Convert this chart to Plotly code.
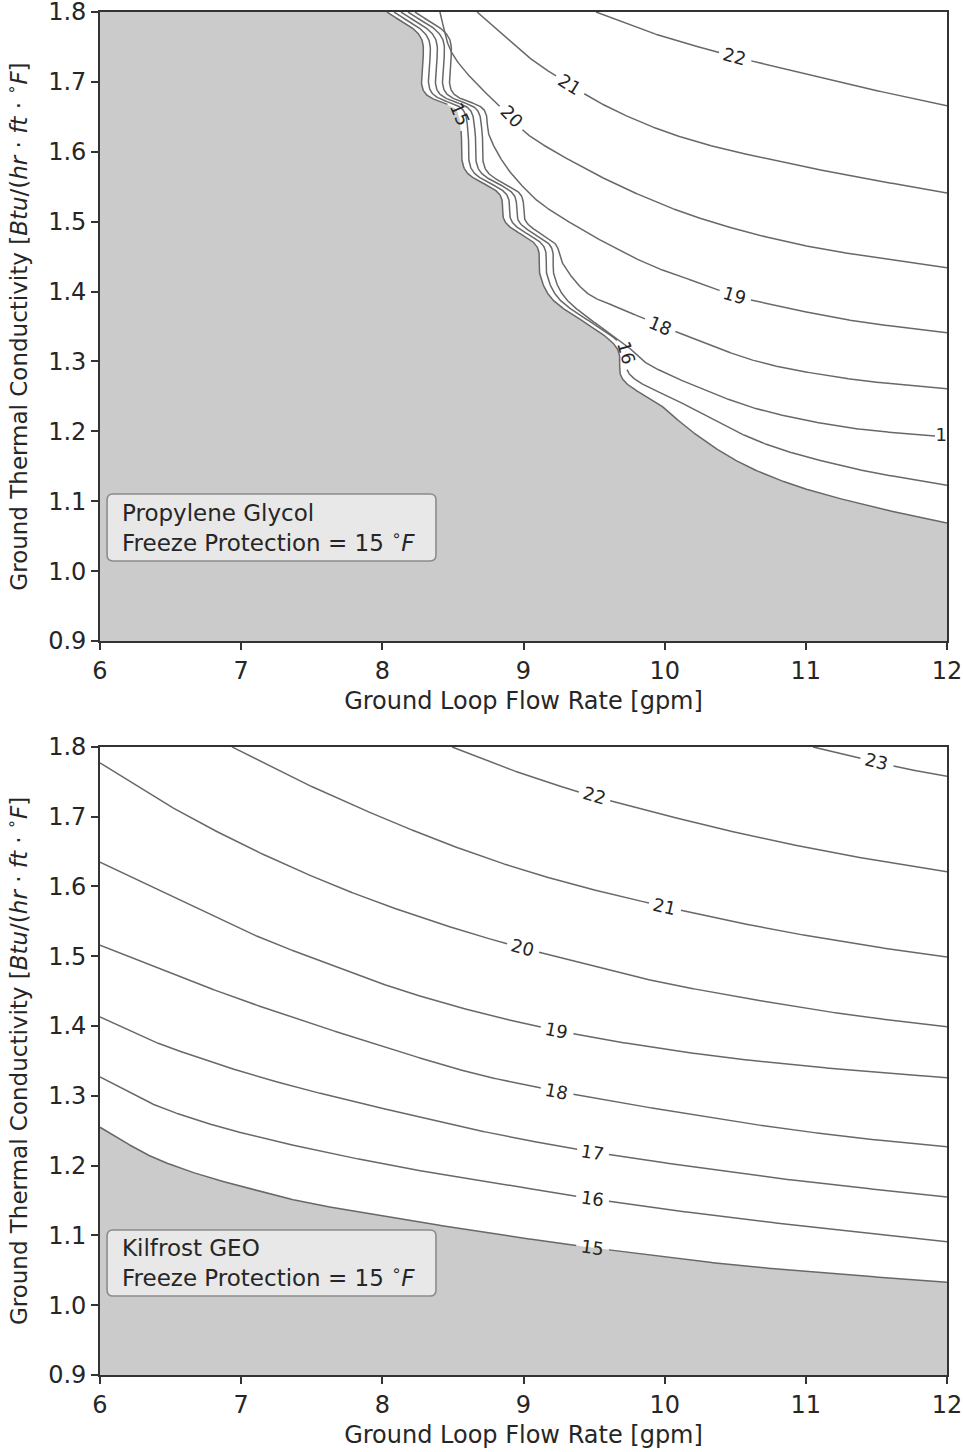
import math
import plotly.graph_objects as go

# ---------------------------------------------------------------- axes / ticks
flow_ticks = [6, 7, 8, 9, 10, 11, 12]
flow_tick_text = ["6", "7", "8", "9", "10", "11", "12"]
k_ticks = [0.9, 1.0, 1.1, 1.2, 1.3, 1.4, 1.5, 1.6, 1.7, 1.8]
k_tick_text = ["0.9", "1.0", "1.1", "1.2", "1.3", "1.4", "1.5", "1.6", "1.7", "1.8"]

x_title = "Ground Loop Flow Rate [gpm]"
y_title = ("Ground Thermal Conductivity [<i>Btu</i>/(<i>hr</i> · <i>ft</i> · "
           "<sup>∘</sup><i>F</i>]")

# ------------------------------------------------ Propylene Glycol (top panel)
# Contour lines of entering fluid temperature [°F]: flow [gpm], k
pg_15_flow = [8.033, 8.274, 8.295, 8.522, 8.557, 8.586, 8.834, 8.869, 9.096, 9.117,
              9.195, 9.662, 9.698, 9.967, 10.179, 10.498, 10.888, 11.454, 12.000]
pg_15_k = [1.800, 1.763, 1.686, 1.660, 1.631, 1.574, 1.538, 1.500, 1.464, 1.424,
           1.391, 1.319, 1.276, 1.238, 1.202, 1.159, 1.125, 1.093, 1.069]

pg_16_flow = [8.083, 8.323, 8.345, 8.571, 8.607, 8.635, 8.883, 8.918, 9.145, 9.166,
              9.245, 9.712, 9.747, 10.109, 10.675, 11.313, 12.000]
pg_16_k = [1.800, 1.763, 1.686, 1.660, 1.631, 1.574, 1.538, 1.500, 1.464, 1.424,
           1.391, 1.319, 1.283, 1.242, 1.185, 1.148, 1.123]

pg_17_flow = [8.132, 8.373, 8.394, 8.621, 8.656, 8.685, 8.933, 8.968, 9.195, 9.216,
              9.295, 9.740, 9.861, 10.250, 10.675, 11.313, 12.000]
pg_17_k = [1.800, 1.763, 1.686, 1.660, 1.631, 1.574, 1.538, 1.500, 1.464, 1.424,
           1.391, 1.321, 1.299, 1.262, 1.231, 1.205, 1.192]

pg_18_flow = [8.182, 8.423, 8.444, 8.671, 8.706, 8.734, 8.982, 9.018, 9.230, 9.273,
              9.450, 9.684, 9.967, 10.250, 10.675, 11.313, 12.000]
pg_18_k = [1.800, 1.763, 1.686, 1.660, 1.631, 1.574, 1.538, 1.500, 1.467, 1.442,
           1.398, 1.376, 1.352, 1.329, 1.299, 1.275, 1.261]

pg_19_flow = [8.231, 8.472, 8.494, 8.720, 8.756, 8.869, 8.996, 9.117, 9.471, 9.896,
              10.250, 10.498, 10.675, 11.313, 12.000]
pg_19_k = [1.800, 1.763, 1.686, 1.660, 1.624, 1.581, 1.550, 1.527, 1.482, 1.438,
           1.412, 1.394, 1.385, 1.359, 1.341]

pg_20_flow = [8.408, 8.494, 8.784, 8.918, 9.011, 9.400, 9.825, 10.250, 10.959, 12.000]
pg_20_k = [1.800, 1.741, 1.674, 1.650, 1.628, 1.580, 1.538, 1.505, 1.467, 1.434]

pg_21_flow = [8.671, 9.046, 9.329, 9.542, 9.896, 10.250, 10.959, 11.525, 12.000]
pg_21_k = [1.800, 1.734, 1.696, 1.670, 1.637, 1.613, 1.580, 1.558, 1.541]

pg_22_flow = [9.514, 9.896, 10.349, 10.675, 11.313, 12.000]
pg_22_k = [1.800, 1.771, 1.744, 1.727, 1.696, 1.666]

pg_levels = [15, 16, 17, 18, 19, 20, 21, 22]
pg_label_flow = [8.550, 9.733, 12.000, 9.967, 10.498, 8.918, 9.329, 10.498]
pg_label_k = [1.653, 1.312, 1.192, 1.352, 1.394, 1.650, 1.696, 1.736]

# --------------------------------------------------- Kilfrost GEO (bottom panel)
kg_15_flow = [6.000, 6.354, 6.708, 7.063, 7.417, 8.125, 8.833, 9.542, 10.250, 10.959, 12.000]
kg_15_k = [1.255, 1.214, 1.187, 1.167, 1.149, 1.124, 1.101, 1.081, 1.063, 1.049, 1.033]

kg_16_flow = [6.000, 6.354, 6.708, 7.063, 7.417, 8.125, 8.833, 9.542, 10.250, 10.959, 12.000]
kg_16_k = [1.327, 1.290, 1.264, 1.244, 1.227, 1.198, 1.174, 1.151, 1.131, 1.114, 1.091]

kg_17_flow = [6.000, 6.354, 6.708, 7.063, 7.417, 8.125, 8.833, 9.542, 10.250, 10.959, 12.000]
kg_17_k = [1.413, 1.380, 1.354, 1.331, 1.311, 1.276, 1.244, 1.218, 1.197, 1.178, 1.155]

kg_18_flow = [6.000, 6.496, 6.942, 7.417, 8.125, 8.692, 9.258, 9.896, 10.604, 11.313, 12.000]
kg_18_k = [1.516, 1.476, 1.442, 1.409, 1.363, 1.330, 1.306, 1.283, 1.260, 1.241, 1.227]

kg_19_flow = [6.000, 6.496, 7.063, 7.629, 8.125, 8.692, 9.258, 9.896, 10.604, 11.313, 12.000]
kg_19_k = [1.635, 1.587, 1.533, 1.488, 1.452, 1.419, 1.393, 1.370, 1.351, 1.337, 1.326]

kg_20_flow = [6.000, 6.496, 7.063, 7.629, 8.125, 8.692, 9.258, 9.896, 10.604, 11.313, 12.000]
kg_20_k = [1.777, 1.715, 1.655, 1.604, 1.566, 1.529, 1.498, 1.466, 1.439, 1.416, 1.399]

kg_21_flow = [6.935, 7.417, 8.125, 8.692, 9.258, 9.896, 10.604, 11.313, 12.000]
kg_21_k = [1.800, 1.751, 1.688, 1.644, 1.608, 1.576, 1.545, 1.519, 1.499]

kg_22_flow = [8.494, 8.833, 9.351, 9.896, 10.604, 11.313, 12.000]
kg_22_k = [1.800, 1.773, 1.738, 1.708, 1.673, 1.644, 1.621]

kg_23_flow = [11.051, 11.334, 11.504, 11.653, 12.000]
kg_23_k = [1.800, 1.786, 1.779, 1.771, 1.758]

kg_levels = [15, 16, 17, 18, 19, 20, 21, 22, 23]
kg_label_flow = [9.492, 9.492, 9.492, 9.237, 9.237, 8.996, 10.002, 9.506, 11.504]
kg_label_k = [1.083, 1.153, 1.219, 1.306, 1.394, 1.512, 1.572, 1.730, 1.779]

panel_titles = [["Propylene Glycol", "Freeze Protection = 15 <sup>∘</sup><i>F</i>"],
                ["Kilfrost GEO", "Freeze Protection = 15 <sup>∘</sup><i>F</i>"]]

# ---------------------------------------------------------------- geometry
FIG_W, FIG_H = 963, 1452
MARGIN = dict(l=100, r=16, t=12, b=77)
PLOT_W = FIG_W - MARGIN["l"] - MARGIN["r"]
PLOT_H = FIG_H - MARGIN["t"] - MARGIN["b"]
TOP_DOM = [0.5385, 1.0]
BOT_DOM = [0.0, 0.4608]
X_RANGE = [6, 12]
Y_RANGE = [0.9, 1.8]

LINE_COLOR = "#686868"
FILL_COLOR = "#cbcbcb"
TEXT_COLOR = "#262626"
AXIS_COLOR = "#333333"
FONT = "DejaVu Sans"
TEXT_SIZE = 24
LABEL_SIZE = 18


def to_px(x, y, dom):
    px = MARGIN["l"] + (x - X_RANGE[0]) / (X_RANGE[1] - X_RANGE[0]) * PLOT_W
    top = MARGIN["t"] + (1 - dom[1]) * PLOT_H
    h = (dom[1] - dom[0]) * PLOT_H
    py = top + (Y_RANGE[1] - y) / (Y_RANGE[1] - Y_RANGE[0]) * h
    return px, py


def from_px(px, py, dom):
    x = X_RANGE[0] + (px - MARGIN["l"]) / PLOT_W * (X_RANGE[1] - X_RANGE[0])
    top = MARGIN["t"] + (1 - dom[1]) * PLOT_H
    h = (dom[1] - dom[0]) * PLOT_H
    y = Y_RANGE[1] - (py - top) / h * (Y_RANGE[1] - Y_RANGE[0])
    return x, y


def smooth_path(xs, ys, dom):
    """Centripetal Catmull-Rom through the points, sampled ~1 px apart."""
    pts = [to_px(x, y, dom) for x, y in zip(xs, ys)]
    ext = ([(2 * pts[0][0] - pts[1][0], 2 * pts[0][1] - pts[1][1])] + pts +
           [(2 * pts[-1][0] - pts[-2][0], 2 * pts[-1][1] - pts[-2][1])])

    def knot(ti, a, b):
        return ti + max(math.hypot(b[0] - a[0], b[1] - a[1]), 1e-6) ** 0.5

    dense = []
    for i in range(1, len(ext) - 2):
        p0, p1, p2, p3 = ext[i - 1], ext[i], ext[i + 1], ext[i + 2]
        t0 = 0.0
        t1 = knot(t0, p0, p1)
        t2 = knot(t1, p1, p2)
        t3 = knot(t2, p2, p3)
        n = max(2, int(math.hypot(p2[0] - p1[0], p2[1] - p1[1])))
        for j in range(n):
            t = t1 + (t2 - t1) * j / n
            pt = []
            for d in range(2):
                a1 = (t1 - t) / (t1 - t0) * p0[d] + (t - t0) / (t1 - t0) * p1[d]
                a2 = (t2 - t) / (t2 - t1) * p1[d] + (t - t1) / (t2 - t1) * p2[d]
                a3 = (t3 - t) / (t3 - t2) * p2[d] + (t - t2) / (t3 - t2) * p3[d]
                b1 = (t2 - t) / (t2 - t0) * a1 + (t - t0) / (t2 - t0) * a2
                b2 = (t3 - t) / (t3 - t1) * a2 + (t - t1) / (t3 - t1) * a3
                pt.append((t2 - t) / (t2 - t1) * b1 + (t - t1) / (t2 - t1) * b2)
            dense.append(tuple(pt))
    dense.append(pts[-1])
    return dense


def break_at_label(dense, label_px, dom, r):
    """Remove the stretch of line under an inline label."""
    xs, ys = [], []
    lx, ly = label_px
    for px, py in dense:
        if math.hypot(px - lx, py - ly) < r:
            if xs and xs[-1] is not None:
                xs.append(None)
                ys.append(None)
            continue
        x, y = from_px(px, py, dom)
        xs.append(x)
        ys.append(y)
    return xs, ys


def label_angle(dense, label_px, span=14):
    lx, ly = label_px
    i = min(range(len(dense)), key=lambda j: (dense[j][0] - lx) ** 2 + (dense[j][1] - ly) ** 2)
    a = dense[max(0, i - span)]
    b = dense[min(len(dense) - 1, i + span)]
    ang = math.degrees(math.atan2(b[1] - a[1], b[0] - a[0]))
    if ang > 90:
        ang -= 180
    if ang < -90:
        ang += 180
    return ang


fig = go.Figure()
annotations = []
shapes = []

panels = [
    dict(dom=TOP_DOM, xa="x", ya="y",
         lines=[(pg_15_flow, pg_15_k), (pg_16_flow, pg_16_k), (pg_17_flow, pg_17_k),
                (pg_18_flow, pg_18_k), (pg_19_flow, pg_19_k), (pg_20_flow, pg_20_k),
                (pg_21_flow, pg_21_k), (pg_22_flow, pg_22_k)],
         levels=pg_levels, lab_x=pg_label_flow, lab_y=pg_label_k,
         title=panel_titles[0], box=(6.050, 8.380, 1.0145, 1.1103)),
    dict(dom=BOT_DOM, xa="x2", ya="y2",
         lines=[(kg_15_flow, kg_15_k), (kg_16_flow, kg_16_k), (kg_17_flow, kg_17_k),
                (kg_18_flow, kg_18_k), (kg_19_flow, kg_19_k), (kg_20_flow, kg_20_k),
                (kg_21_flow, kg_21_k), (kg_22_flow, kg_22_k), (kg_23_flow, kg_23_k)],
         levels=kg_levels, lab_x=kg_label_flow, lab_y=kg_label_k,
         title=panel_titles[1], box=(6.050, 8.380, 1.0132, 1.1078)),
]

for p in panels:
    dom, xa, ya = p["dom"], p["xa"], p["ya"]
    paths = [smooth_path(lx, ly, dom) for lx, ly in p["lines"]]

    # region below the freeze-protection limit, bounded by the lowest contour
    edge = [from_px(px, py, dom) for px, py in paths[0]]
    poly_x = [e[0] for e in edge] + [X_RANGE[1], X_RANGE[0], X_RANGE[0]]
    poly_y = [e[1] for e in edge] + [Y_RANGE[0], Y_RANGE[0], Y_RANGE[1]]
    fig.add_trace(go.Scatter(x=poly_x, y=poly_y, mode="lines", fill="toself",
                             fillcolor=FILL_COLOR, line=dict(width=0),
                             hoverinfo="skip", xaxis=xa, yaxis=ya))

    for dense, level, lab_x, lab_y in zip(paths, p["levels"], p["lab_x"], p["lab_y"]):
        lab_px = to_px(lab_x, lab_y, dom)
        on_edge = lab_x >= X_RANGE[1] - 1e-9
        xs, ys = break_at_label(dense, lab_px, dom, r=12 if on_edge else 16)
        fig.add_trace(go.Scatter(x=xs, y=ys, mode="lines",
                                 line=dict(color=LINE_COLOR, width=1.5),
                                 connectgaps=False, hoverinfo="skip",
                                 xaxis=xa, yaxis=ya))
        if on_edge:
            # label sitting on the right spine: clipped by the plot area
            fig.add_trace(go.Scatter(x=[lab_x], y=[lab_y], mode="text", text=[str(level)],
                                     textposition="middle center", cliponaxis=True,
                                     textfont=dict(family=FONT, size=LABEL_SIZE,
                                                   color=TEXT_COLOR),
                                     hoverinfo="skip", xaxis=xa, yaxis=ya))
        else:
            annotations.append(dict(x=lab_x, y=lab_y, xref=xa, yref=ya, text=str(level),
                                    showarrow=False, textangle=label_angle(dense, lab_px),
                                    font=dict(family=FONT, size=LABEL_SIZE,
                                              color=TEXT_COLOR)))

    # text box with rounded corners
    x0, x1, y0, y1 = p["box"]
    rx = 6 / PLOT_W * (X_RANGE[1] - X_RANGE[0])
    ry = 6 / ((dom[1] - dom[0]) * PLOT_H) * (Y_RANGE[1] - Y_RANGE[0])
    path = (f"M {x0 + rx},{y0} L {x1 - rx},{y0} Q {x1},{y0} {x1},{y0 + ry} "
            f"L {x1},{y1 - ry} Q {x1},{y1} {x1 - rx},{y1} L {x0 + rx},{y1} "
            f"Q {x0},{y1} {x0},{y1 - ry} L {x0},{y0 + ry} Q {x0},{y0} {x0 + rx},{y0} Z")
    shapes.append(dict(type="path", path=path, xref=xa, yref=ya,
                       fillcolor="#e8e8e8", line=dict(color="#8c8c8c", width=1.6),
                       layer="above"))
    annotations.append(dict(x=x0 + 13 / PLOT_W * 6, y=(y0 + y1) / 2, xref=xa, yref=ya,
                            xanchor="left", yanchor="middle", align="left",
                            text="<br>".join(p["title"]), showarrow=False,
                            font=dict(family=FONT, size=TEXT_SIZE - 1, color=TEXT_COLOR)))

axis_common = dict(showline=True, mirror=True, linecolor=AXIS_COLOR, linewidth=1.8,
                   ticks="outside", ticklen=7, tickwidth=1.6, tickcolor=AXIS_COLOR,
                   showgrid=False, zeroline=False, automargin=False,
                   ticklabeloverflow="allow",
                   tickfont=dict(family=FONT, size=TEXT_SIZE, color=TEXT_COLOR))

xaxis_common = dict(axis_common, range=X_RANGE, tickmode="array", tickvals=flow_ticks,
                    ticktext=flow_tick_text,
                    title=dict(text=x_title, standoff=8,
                               font=dict(family=FONT, size=TEXT_SIZE, color=TEXT_COLOR)))
yaxis_common = dict(axis_common, range=Y_RANGE, tickmode="array", tickvals=k_ticks,
                    ticktext=k_tick_text,
                    title=dict(text=y_title, standoff=14,
                               font=dict(family=FONT, size=TEXT_SIZE - 1, color=TEXT_COLOR)))

fig.update_layout(
    width=FIG_W, height=FIG_H, margin=MARGIN,
    paper_bgcolor="white", plot_bgcolor="white", showlegend=False,
    xaxis=dict(xaxis_common, domain=[0, 1], anchor="y"),
    yaxis=dict(yaxis_common, domain=TOP_DOM, anchor="x"),
    xaxis2=dict(xaxis_common, domain=[0, 1], anchor="y2"),
    yaxis2=dict(yaxis_common, domain=BOT_DOM, anchor="x2"),
    annotations=annotations, shapes=shapes,
)

fig.write_html("out.html")
